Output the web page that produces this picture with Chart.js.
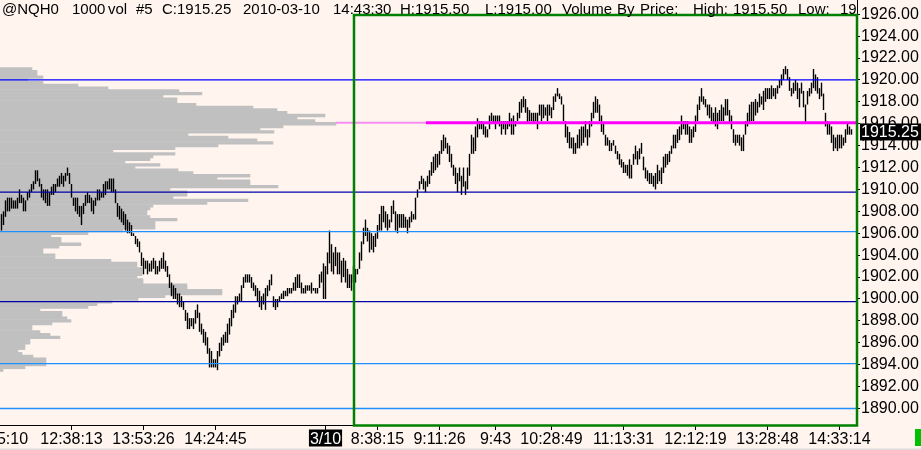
<!DOCTYPE html>
<html>
<head>
<meta charset="utf-8">
<script src="https://cdn.jsdelivr.net/npm/chart.js@4.4.1/dist/chart.umd.min.js"></script>
<style>
  html, body { margin: 0; padding: 0; background: #fff5ee; }
  #wrap { width: 921px; height: 450px; position: relative; }
</style>
</head>
<body>
<div id="wrap"><canvas id="vbp"></canvas></div>
<script>
// @NQH0 1000 vol bars: high / low of each bar, left to right
const barHigh = [
  1907.75,1908,1909,1909.25,1909.25,1909.25,1909,1909,1909.25,1910,
  1909.5,1909.25,1909,1909.75,1910,1910.5,1910.75,1911.75,1911.75,1911,
  1910.5,1910,1910,1910,1909.75,1910.25,1910.5,1910.5,1911,1911.25,
  1911.5,1911.25,1911.5,1912,1911.5,1910.5,1909.25,1909.25,1909.25,1908.5,
  1908.5,1908.75,1909.5,1909.75,1909.5,1909.25,1909,1909.25,1910,1910,
  1909.75,1910.5,1910.75,1910.75,1911,1911,1911,1910,1908.75,1908.5,
  1908.25,1908,1907.75,1907.25,1907,1906.75,1906,1905.75,1905.5,1905.25,
  1904.25,1903.75,1903.5,1903.5,1903.25,1903.5,1903.75,1903.5,1903,1903.5,
  1903.75,1904.25,1903.5,1903,1902.25,1901.5,1901.25,1901,1900.5,1900.5,
  1900.25,1899.75,1899,1898.75,1898.25,1898.25,1898.25,1899,1899.5,1898.75,
  1897.75,1897.25,1897,1896.5,1895.5,1895.25,1894.5,1894.5,1895.25,1896,
  1896.5,1896.75,1897,1897.75,1898.25,1899,1899.5,1900.25,1900.25,1900.5,
  1901.25,1902,1902.25,1902.25,
  1902.25,1902,1901.5,1901.25,1901,1900.75,1900.25,1900.5,1901,1901.25,
  1901.75,1902.25,1900.25,1900,1900,1900.25,1900.5,1900.75,1900.75,1901,
  1901,1901,1901.5,1902,1902.25,1902.25,1901.5,1901,1901.25,1901.25,
  1901.25,1901.5,1901,1901,1901,1902.25,1902.5,1903.25,1903,1904.25,
  1906.25,1905,1904.25,1904.75,1904.25,1904.25,1903.5,1903.75,1903.5,1902.75,
  1902.25,1902.25,1903,1902.75,1902.75,1904.25,1905.25,1906.5,1907.25,1906.5,
  1906.25,1906,1905.75,1906,1906.75,1907.75,1908.5,1908.5,1908,1907.75,
  1907.25,1908.5,1909,1908,1907.75,1907.75,1907.75,1907.75,1907.5,1907.25,
  1907.5,1908,1907.75,1909.25,1910,1910.75,1911.25,1911,1910.75,1911.25,
  1911.75,1912.5,1913,1913.25,1913.25,1913.5,1914.5,1915,1914.75,1914.25,
  1914,1913.25,1912.25,1912,1911.5,1912,1911.25,1912,1910.75,1912,
  1913.25,
  1915,1914.75,1915.75,1916.5,1916.25,1916.25,1916,1915.75,1915.5,1916.75,
  1917,1916.75,1916.75,1916.75,1916.75,1916.25,1916.25,1916.25,1916.25,1917,
  1916.5,1916.75,1916.25,1917,1918,1918.25,1918.5,1918.25,1917.5,1917.25,
  1917,1917,1917,1917,1917.75,1917.75,1917.75,1917.5,1917.75,1917.75,
  1917.5,1918.5,1918.75,1919.25,1918.75,1918.5,1917.75,1916.25,1915.75,1915.25,
  1914.75,1914.75,1914.25,1915,1915.5,1915.75,1915.75,1916.25,1915.5,1916.25,
  1917,1918,1918.5,1918.25,1917.75,1916.75,1916,1915,1914.75,1914.5,
  1914.25,1914.5,1914,1913.5,1913.25,1912.75,1912.5,1912.25,1912.25,1912.75,
  1912.25,1913.25,1914,1913.5,1913.75,1914.25,1913,1912,1911.75,1911.5,
  1911.5,1911.25,1911.5,1912.25,1911.75,1912,1913,1913.25,1913.25,1913.5,
  1914,1915,1915,1915.5,1915.75,1916.75,1916.25,1916.25,1916.25,1915.75,
  1915.5,1915.75,1916.75,1917.75,1918.5,1919.25,1918.5,1918.25,1917.75,1917.75,
  1917.5,1917,1917.5,1917,1917.25,1917.75,1917.5,1918.25,1918.25,1917.25,
  1916.75,1915.5,1915,1915,1915,1914.75,1915,1916.25,1917,1917.75,
  1918,1918,1918.25,1918,1918.75,1918.5,1919,1919.25,1919.25,1919.25,
  1919.5,1919.25,1919.25,1919.5,1920,1920.5,1921,1921.25,1921,1920.25,
  1919.25,1919.75,1920,1919.75,1919.25,1919.75,1919,1917.75,1919,1919.25,
  1919.75,1921,1920.5,1920.25,1919.25,1919.75,1918.75,1917,1916.25,1916,
  1915.75,1915,1914.75,1915,1915,1915,1914.75,1915.5,1916,1915.75,
  1915.5
];
const barLow = [
  1906.25,1906.75,1907.5,1908,1908,1908.25,1908.25,1908.25,1908.25,1908.75,
  1908.75,1908,1908,1909,1909.25,1909.75,1910,1910.5,1910.75,1910.25,
  1909.25,1909,1908.75,1908.5,1908.5,1909.5,1909.5,1909.75,1910.25,1910.25,
  1910.5,1910.25,1910.75,1911.25,1910.5,1909.25,1908.5,1908,1907.75,1907.5,
  1906.75,1907.75,1908.5,1908.75,1908.75,1908,1907.75,1908.5,1909,1909,
  1909.25,1909.25,1909.5,1910,1910,1909.75,1909.75,1908.75,1907.5,1907.25,
  1907,1906.75,1906.25,1906,1906,1905.75,1905.75,1905,1904.75,1904.25,
  1903,1902.25,1902.75,1902.25,1902.5,1902.5,1902.75,1902.25,1902.25,1902.5,
  1902.75,1902.75,1902.5,1902,1901,1900.25,1900,1900,1899.5,1899.25,
  1899.25,1899,1898,1897.25,1897.25,1897.5,1897.25,1897.75,1898.25,1897,
  1896.75,1896,1895.75,1895,1893.75,1893.75,1893.75,1893.75,1893.5,1894.75,
  1895.25,1895.75,1896,1896,1896.75,1897.5,1898.25,1898.75,1899.5,1899.75,
  1899.75,1901,1901.5,1901.5,
  1901.5,1901,1900.75,1900.25,1899.75,1899.25,1899,1899.5,1899,1900.25,
  1900.75,1901.25,1899.25,1899,1899.25,1899.75,1900,1900,1900.25,1900.25,
  1900.5,1900.5,1900.75,1900.75,1901,1901,1900.5,1900.5,1900.5,1900.75,
  1900.75,1900.5,1900.75,1900.5,1900.5,1901,1901.5,1900,1900,1902.25,
  1903.25,1902.5,1902.25,1903,1902.25,1902.25,1901.5,1902,1901.5,1901,
  1901,1900.75,1901.5,1901.5,1902.25,1902.75,1903.5,1905,1905.75,1905.25,
  1904.25,1904.5,1904.25,1904.75,1905.5,1906.25,1906.25,1907,1906.5,1906.25,
  1906.5,1907,1907.75,1906.25,1906,1906.5,1906.5,1906.5,1906.5,1906,
  1906.5,1907,1907.25,1907.25,1909.25,1910,1910.5,1910,1909.75,1910.25,
  1910.5,1911.25,1911.5,1911.75,1912,1912.25,1913.25,1913.5,1913.75,1913.25,
  1912.5,1912,1911.25,1910.5,1909.75,1910.75,1909.5,1910.25,1909.5,1910,
  1911.25,
  1913.25,1913.25,1913.5,1914.75,1915.5,1915.5,1915,1914.75,1914.75,1915.5,
  1916.25,1916,1915.5,1916,1915.75,1915,1915.5,1915,1915.5,1915.75,
  1915,1915,1915.75,1916.25,1916.5,1917,1917.5,1917,1916,1916.25,
  1916.25,1916,1916.25,1915.5,1916.75,1916.25,1916.5,1916.75,1916.25,1916.75,
  1916.5,1917.25,1918,1918.5,1918.25,1917.75,1916.25,1914.75,1914.25,1913.75,
  1913.75,1913.25,1913.25,1913.75,1913.75,1914,1914.25,1914.75,1914,1914.75,
  1915.75,1916.5,1917,1917,1916.25,1915.25,1915,1914,1914,1913.5,
  1913.5,1914,1913.25,1912.75,1912.25,1912,1911.5,1911.5,1911.25,1911,
  1911,1912.25,1912.75,1912.25,1912.75,1913.25,1911.75,1911,1910.75,1910.5,
  1910.5,1910.25,1910,1910.5,1910.75,1910.5,1911.5,1912,1912.25,1912.5,
  1913.25,1913.75,1913.75,1914.25,1914.5,1915,1915.5,1915,1915,1914.25,
  1914.25,1914.75,1915.25,1916.25,1917.25,1918,1917.75,1917.5,1916.75,1916.5,
  1916.25,1916,1915.75,1915.5,1916.25,1916.25,1916.25,1916.75,1916.75,1916,
  1915.5,1914.25,1914,1914.25,1914,1913.5,1913.5,1915,1915.75,1916,
  1916.25,1916.25,1916.75,1917,1917.5,1917.75,1917.25,1918,1918.25,1918.25,
  1918.25,1918.5,1918.25,1918.75,1919.25,1919.5,1920,1920.5,1920,1919,
  1918.5,1918.75,1919,1918.25,1917.5,1918.75,1917.5,1916,1917.75,1918.5,
  1918.75,1919.25,1919,1918.75,1918.25,1918.5,1917.25,1915.75,1915,1915,
  1914.25,1913.5,1913.75,1913.5,1913.75,1913.75,1914,1914.25,1915,1915,
  1915
];

// volume by price: price rows and their volume
const profLevels = [
  1921,1920.75,1920.5,1920.25,1920,1919.75,1919.5,1919.25,1919,1918.75,
  1918.5,1918.25,1918,1917.75,1917.5,1917.25,1917,1916.75,1916.5,1916.25,
  1916,1915.75,1915.5,1915.25,1915,1914.75,1914.5,1914.25,1914,1913.75,
  1913.5,1913.25,1913,1912.75,1912.5,1912.25,1912,1911.75,1911.5,1911.25,
  1911,1910.75,1910.5,1910.25,1910,1909.75,1909.5,1909.25,1909,1908.75,
  1908.5,1908.25,1908,1907.75,1907.5,1907.25,1907,1906.75,1906.5,1906.25,
  1906,1905.75,1905.5,1905.25,1905,1904.75,1904.5,1904.25,1904,1903.75,
  1903.5,1903.25,1903,1902.75,1902.5,1902.25,1902,1901.75,1901.5,1901.25,
  1901,1900.75,1900.5,1900.25,1900,1899.75,1899.5,1899.25,1899,1898.75,
  1898.5,1898.25,1898,1897.75,1897.5,1897.25,1897,1896.75,1896.5,1896.25,
  1896,1895.75,1895.5,1895.25,1895,1894.75,1894.5,1894.25,1894,1893.75,
  1893.5
];
const profVolume = [
  32,37,37,43,28,43,78,108,179,202,
  163,177,177,196,253,277,287,325,297,315,
  336,283,260,274,188,228,257,273,218,175,
  113,175,153,150,125,160,135,178,193,250,
  217,250,250,278,170,187,187,173,248,207,
  153,150,147,147,150,177,155,155,155,123,
  88,51,61,61,81,59,43,43,55,55,
  111,137,137,142,142,142,137,143,143,187,
  187,222,222,165,138,112,97,88,40,62,
  62,67,71,52,32,32,40,50,60,30,
  30,25,25,18,22,33,46,46,46,25,
  3
];

const yTicks = [1890,1892,1894,1896,1898,1900,1902,1904,1906,1908,1910,1912,1914,1916,1918,1920,1922,1924,1926];
const xTickBars = [-2, 35, 71, 107, 162, 188, 219, 247, 275, 311, 347, 383, 419];
const xTickText = ['11:25:10','12:38:13','13:53:26','14:24:45','3/10','8:38:15','9:11:26','9:43','10:28:49','11:13:31','12:12:19','13:28:48','14:33:14'];

const levelLines  = [1920, 1909.75, 1906.15, 1899.75, 1894.1, 1890];
const levelColors = ['#0000ff', '#0000a8', '#1e90ff', '#0000a8', '#1e90ff', '#1e90ff'];
const pocLevel = 1916.1;
const pocFadeBars = [167.25, 212.25];
const lastPrice = 1915.25;
const sessionStartBar = 176.25;

const X_MIN = -0.75, X_MAX = 427.75;
const FONT = "'Liberation Sans', Arial, sans-serif";

const header = [
  ['@NQH0', 2], ['1000', 72], ['vol', 108], ['#5', 136], ['C:1915.25', 162],
  ['2010-03-10', 243], ['14:43:30', 333], ['H:1915.50', 400], ['L:1915.00', 485],
  ['Volume', 562], ['By', 617], ['Price:', 640], ['High:', 693], ['1915.50', 733],
  ['Low:', 798], ['1915.00', 840]
];

const datasets = [];
levelLines.forEach((v, i) => {
  datasets.push({
    type: 'line',
    data: [{x: X_MIN, y: v}, {x: X_MAX, y: v}],
    borderColor: levelColors[i], borderWidth: 1.3, pointRadius: 0,
    xAxisID: 'x', yAxisID: 'y'
  });
});
datasets.push({
  type: 'line',
  data: [{x: pocFadeBars[1], y: pocLevel}, {x: X_MAX, y: pocLevel}],
  borderColor: '#ff00ff', borderWidth: 3, pointRadius: 0, xAxisID: 'x', yAxisID: 'y'
});
datasets.push({
  type: 'line',
  data: [{x: pocFadeBars[0], y: pocLevel}, {x: pocFadeBars[1], y: pocLevel}],
  borderColor: '#f590f0', borderWidth: 2, pointRadius: 0, xAxisID: 'x', yAxisID: 'y'
});
datasets.push({
  type: 'bar',
  data: barHigh.map((h, i) => ({x: i, y: [barLow[i], h]})),
  backgroundColor: '#000', borderWidth: 0, grouped: false,
  maxBarThickness: 1.4, inflateAmount: 0,
  xAxisID: 'x', yAxisID: 'y'
});
datasets.push({
  type: 'bar', indexAxis: 'y',
  data: profLevels.map((p, i) => ({x: profVolume[i], y: p})),
  backgroundColor: '#c0c0c0', borderWidth: 0, grouped: false,
  barPercentage: 1, categoryPercentage: 1, inflateAmount: 0.3,
  xAxisID: 'xv', yAxisID: 'y'
});

const decor = {
  id: 'decor',
  beforeDraw(chart) {
    const c = chart.ctx;
    c.save();
    c.fillStyle = '#fff5ee';
    c.fillRect(0, 0, chart.width, chart.height);
    c.restore();
  },
  afterDraw(chart) {
    const c = chart.ctx, area = chart.chartArea;
    const xs = chart.scales.x, ys = chart.scales.y;
    c.save();

    // session box
    const left = xs.getPixelForValue(sessionStartBar);
    c.strokeStyle = '#008000';
    c.lineWidth = 2.5;
    c.strokeRect(left, area.top + 15, area.right - left, area.bottom - area.top - 14.5);

    // header line
    c.save();
    c.beginPath();
    c.rect(0, 0, area.right - 1, 20);
    c.clip();
    c.fillStyle = '#000';
    c.font = '15px ' + FONT;
    c.textBaseline = 'alphabetic';
    header.forEach(([t, x]) => c.fillText(t, x, 14));
    c.restore();

    // time labels
    c.font = '16px ' + FONT;
    c.textAlign = 'center';
    c.textBaseline = 'alphabetic';
    xTickBars.forEach((b, i) => {
      const px = xs.getPixelForValue(b);
      const t = xTickText[i];
      if (t === '3/10') {
        const w = c.measureText(t).width;
        c.fillStyle = '#000';
        c.fillRect(px - w / 2 - 1, area.bottom + 4.5, w + 2, 17);
        c.fillStyle = '#fff';
      } else {
        c.fillStyle = '#000';
      }
      c.fillText(t, px, area.bottom + 19);
    });

    // last price box
    const py = ys.getPixelForValue(lastPrice);
    c.fillStyle = '#000';
    c.fillRect(ys.left + 3, py - 8.5, chart.width - ys.left - 3, 17);
    c.fillStyle = '#fff';
    c.textAlign = 'left';
    c.textBaseline = 'middle';
    c.fillText(lastPrice.toFixed(2), ys.left + 4, py + 0.5);

    // status marker and bottom strip
    c.fillStyle = '#00c000';
    c.fillRect(chart.width - 6, area.bottom + 4, 6, 17);
    c.fillStyle = '#dcdcdc';
    c.fillRect(0, chart.height - 1.5, chart.width, 1.5);
    c.restore();
  }
};

new Chart(document.getElementById('vbp'), {
  data: { datasets },
  options: {
    responsive: true,
    maintainAspectRatio: false,
    animation: false,
    layout: { padding: 0 },
    plugins: { legend: { display: false }, tooltip: { enabled: false } },
    scales: {
      x: {
        type: 'linear', position: 'bottom', min: X_MIN, max: X_MAX,
        offset: false, bounds: 'data',
        afterBuildTicks: s => { s.ticks = xTickBars.map(v => ({value: v})); },
        afterFit: s => { s.height = 25; s.paddingLeft = 0; s.paddingRight = 0; },
        ticks: { display: false },
        grid: { offset: false, drawOnChartArea: false, drawTicks: true, tickLength: 5, color: '#000' },
        border: { display: true, color: '#000', width: 1 }
      },
      xv: { type: 'linear', axis: 'x', display: false, offset: false, min: 0, max: 857 },
      y: {
        type: 'linear', position: 'right', min: 1888.494, max: 1927.296,
        offset: false, bounds: 'data',
        afterBuildTicks: s => { s.ticks = yTicks.map(v => ({value: v})); },
        afterFit: s => { s.width = 64; s.paddingTop = 0; s.paddingBottom = 0; },
        ticks: {
          color: '#000', padding: 1,
          font: { family: FONT, size: 16 },
          callback: v => Number(v).toFixed(2)
        },
        grid: { offset: false, drawOnChartArea: false, drawTicks: true, tickLength: 3, color: '#000' },
        border: { display: true, color: '#000', width: 1 }
      }
    }
  },
  plugins: [decor]
});
</script>
</body>
</html>
